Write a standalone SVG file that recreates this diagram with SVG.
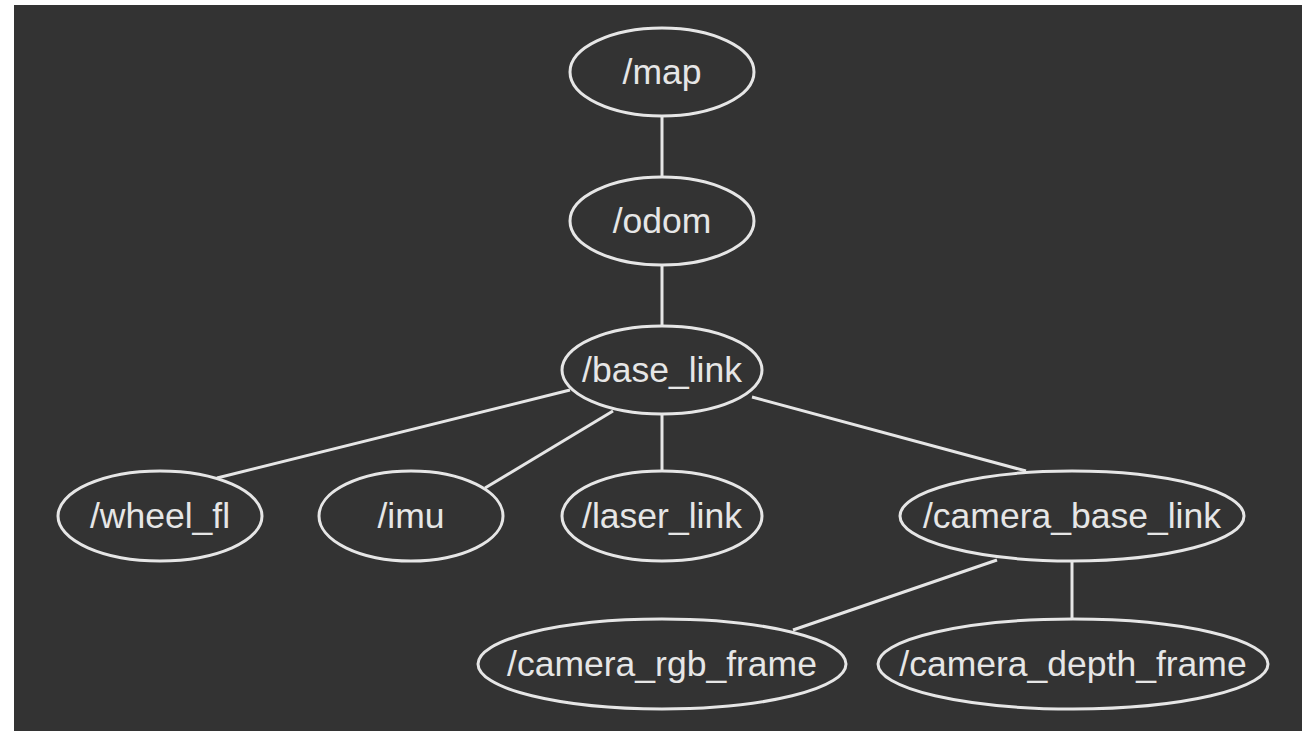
<svg xmlns="http://www.w3.org/2000/svg" width="1302" height="731" viewBox="0 0 1302 731">
  <style>
    .node ellipse { fill: none; stroke: #e6e6e6; stroke-width: 3; }
    .node text { fill: #e6e6e6; font-family: "Liberation Sans", Arial, Helvetica, sans-serif; font-size: 35.5px; text-anchor: middle; }
    #edges line { stroke: #e6e6e6; stroke-width: 3; }
  </style>
  <rect x="0" y="0" width="1302" height="731" fill="#ffffff"/>
  <rect x="14" y="5" width="1288" height="726" fill="#333333"/>

  <!-- tree edges -->
  <g id="edges">
    <line x1="662" y1="116" x2="662" y2="177"/>
    <line x1="662" y1="265" x2="662" y2="326"/>
    <line x1="570" y1="390" x2="217" y2="478"/>
    <line x1="613" y1="411" x2="485" y2="488"/>
    <line x1="662" y1="414" x2="662" y2="472"/>
    <line x1="752" y1="397" x2="1026" y2="471"/>
    <line x1="997" y1="560" x2="793" y2="630"/>
    <line x1="1072" y1="561" x2="1072" y2="619"/>
  </g>

  <g id="map" class="node">
    <ellipse cx="662" cy="72" rx="92" ry="44"/>
    <text x="662" y="84">/map</text>
  </g>
  <g id="odom" class="node">
    <ellipse cx="662" cy="221" rx="92" ry="44"/>
    <text x="662" y="233">/odom</text>
  </g>
  <g id="base_link" class="node">
    <ellipse cx="662" cy="370" rx="100" ry="44"/>
    <text x="662" y="382">/base_link</text>
  </g>
  <g id="wheel_fl" class="node">
    <ellipse cx="160" cy="516" rx="102" ry="45"/>
    <text x="160" y="528">/wheel_fl</text>
  </g>
  <g id="imu" class="node">
    <ellipse cx="411" cy="516" rx="92" ry="45"/>
    <text x="411" y="528">/imu</text>
  </g>
  <g id="laser_link" class="node">
    <ellipse cx="662" cy="516" rx="100" ry="45"/>
    <text x="662" y="528">/laser_link</text>
  </g>
  <g id="camera_base_link" class="node">
    <ellipse cx="1072" cy="516" rx="172" ry="45"/>
    <text x="1072" y="528">/camera_base_link</text>
  </g>
  <g id="camera_rgb_frame" class="node">
    <ellipse cx="662" cy="664" rx="184" ry="45"/>
    <text x="662" y="676">/camera_rgb_frame</text>
  </g>
  <g id="camera_depth_frame" class="node">
    <ellipse cx="1073" cy="664" rx="195" ry="45"/>
    <text x="1073" y="676">/camera_depth_frame</text>
  </g>
</svg>
